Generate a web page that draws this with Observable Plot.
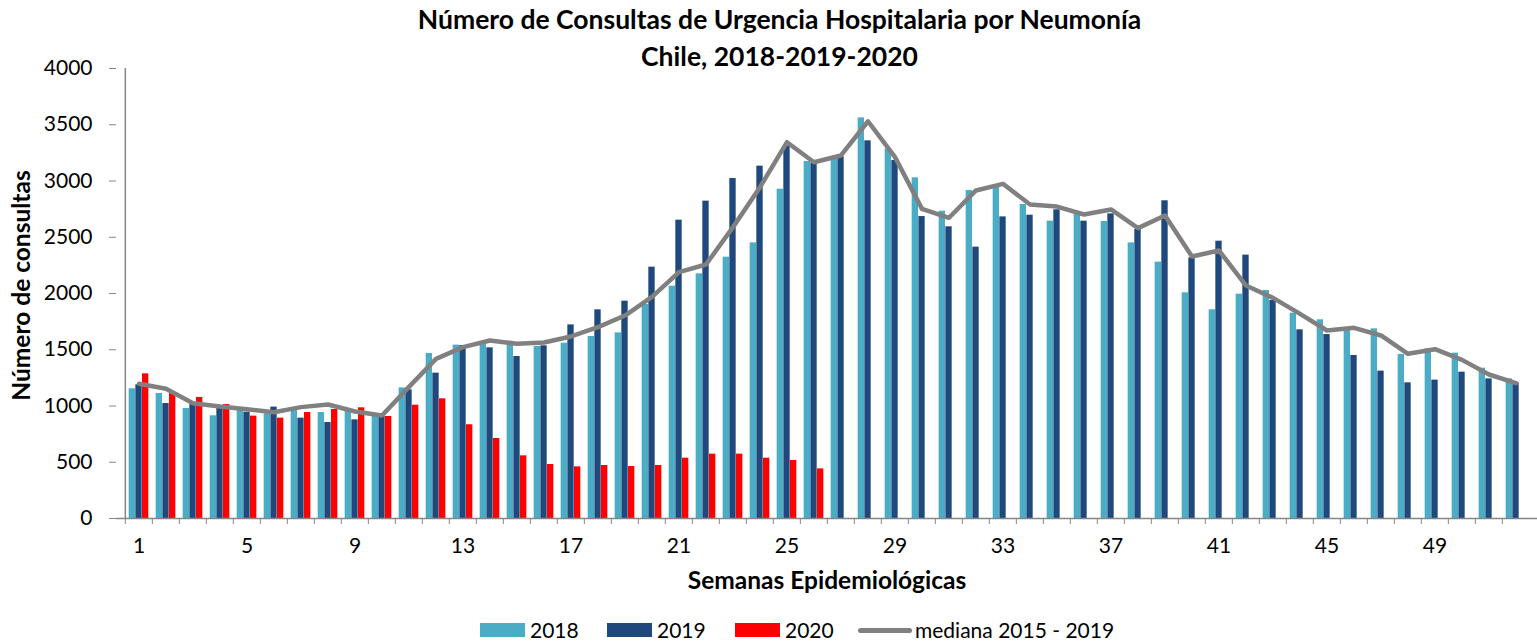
<!DOCTYPE html>
<html>
<head>
<meta charset="utf-8">
<script src="https://cdn.jsdelivr.net/npm/d3@7"></script>
<script src="https://cdn.jsdelivr.net/npm/@observablehq/plot@0.6"></script>
<style>
  html, body { margin: 0; padding: 0; background: #fff; }
  body { width: 1537px; height: 644px; position: relative; overflow: hidden; font-family: Lato, "Open Sans", sans-serif; color: #000; }
  #title { position: absolute; top: 1px; left: 11px; width: 1537px; text-align: center; font-weight: bold; font-size: 26.5px; line-height: 37px; z-index: 2; }
  #chart { position: absolute; top: 0; left: 0; }
  #legend { position: absolute; top: 619px; left: 0; width: 1537px; height: 22px; font-size: 21px; line-height: 22px; white-space: nowrap; }
  .item { position: absolute; top: 0; display: flex; align-items: center; height: 22px; }
  .sw { width: 45px; height: 14px; margin-right: 5px; }
  .ln { width: 54px; height: 5px; border-radius: 3px; background: #808080; margin-right: 3px; }
  svg text { font-family: Lato, "Open Sans", sans-serif; }
</style>
</head>
<body>
<div id="title">Número de Consultas de Urgencia Hospitalaria por Neumonía<br>Chile, 2018-2019-2020</div>
<div id="chart"></div>
<div id="legend"></div>
<script>
const weeks = d3.range(1, 53);
const xTickWeeks = [1, 5, 9, 13, 17, 21, 25, 29, 33, 37, 41, 45, 49];
const yTicks = [0, 500, 1000, 1500, 2000, 2500, 3000, 3500, 4000];

const v2018 = [1153,1111,978,913,960,955,966,942,955,907,
  1161,1467,1541,1553,1576,1529,1558,1618,1650,1902,
  2065,2175,2323,2450,2927,3173,3212,3561,3286,3028,
  2732,2916,2945,2791,2643,2708,2640,2450,2279,2006,
  1855,1994,2027,1825,1766,1671,1686,1458,1508,1470,
  1336,1241];
const v2019 = [1188,1022,1013,984,945,990,892,853,877,907,
  1144,1292,1538,1517,1440,1535,1721,1855,1932,2234,
  2652,2821,3022,3132,3310,3158,3215,3357,3182,2684,
  2593,2412,2681,2696,2744,2643,2708,2569,2824,2317,
  2465,2341,1938,1677,1635,1449,1310,1206,1230,1301,
  1241,1206];
const v2020 = [1286,1110,1076,1013,910,892,942,969,984,907,
  1007,1064,833,711,557,480,459,471,462,471,
  536,572,572,536,516,441];
const median = [1197,1153,1025,995,972,945,990,1013,951,916,
  1170,1419,1523,1582,1553,1564,1618,1701,1804,1970,
  2190,2258,2590,2945,3345,3167,3227,3531,3212,2752,
  2673,2916,2975,2791,2773,2702,2747,2581,2693,2329,
  2382,2071,1961,1819,1671,1695,1627,1464,1505,1410,
  1280,1203];

const seriesNames = ["2018", "2019", "2020", "mediana 2015 - 2019"];
const colors = ["#4BACC6", "#1F497D", "#FF0000", "#808080"];

const toRows = arr => arr.map((v, i) => ({week: weeks[i], value: v}));
const r2018 = toRows(v2018), r2019 = toRows(v2019), r2020 = toRows(v2020), rMed = toRows(median);

const W = 1537, H = 600, mL = 116, mR = 0, mT = 68, mB = H - 68 - 450;
const bw = (W - mL - mR) / weeks.length;
const barW = 6.67;
const g0 = (bw - 3 * barW) / 2;
const axisColor = "#868686";

const chart = Plot.plot({
  width: W, height: H,
  marginLeft: mL, marginRight: mR, marginTop: mT, marginBottom: mB,
  style: {fontSize: "21px", color: "#000", background: "#fff"},
  x: {type: "band", domain: weeks, padding: 0, axis: null},
  y: {domain: [0, 4000], axis: null},
  marks: [
    Plot.barY(r2018, {x: "week", y: "value", fill: colors[0], insetLeft: g0, insetRight: bw - g0 - barW}),
    Plot.barY(r2019, {x: "week", y: "value", fill: colors[1], insetLeft: g0 + barW, insetRight: bw - g0 - 2 * barW}),
    Plot.barY(r2020, {x: "week", y: "value", fill: colors[2], insetLeft: g0 + 2 * barW, insetRight: g0}),
    Plot.line(rMed, {x: "week", y: "value", stroke: colors[3], strokeWidth: 4.5, strokeLinejoin: "round", strokeLinecap: "round"}),
    Plot.axisY({ticks: yTicks, tickSize: 7, tickPadding: 17, tickFormat: d => String(d), stroke: axisColor, fill: "#000", label: null, fontSize: 21}),
    Plot.axisX({ticks: xTickWeeks, tickSize: 0, tickPadding: 20, tickFormat: d => String(d), fill: "#000", label: null, fontSize: 21}),
    Plot.axisX({ticks: weeks, tickSize: 6, tickFormat: () => "", dx: -bw / 2, stroke: axisColor, label: null}),
    Plot.ruleY([0], {stroke: axisColor, strokeWidth: 1.5}),
    Plot.ruleX([weeks[0]], {dx: -bw / 2, stroke: axisColor, strokeWidth: 1.5}),
    Plot.text(["Semanas Epidemiológicas"], {frameAnchor: "bottom", dy: 70, fontWeight: "bold", fontSize: 24.5, fill: "#000", textAnchor: "middle"}),
    Plot.text(["Número de consultas"], {frameAnchor: "left", dx: -94, dy: -8, rotate: -90, fontWeight: "bold", fontSize: 24.5, fill: "#000", textAnchor: "middle"})
  ]
});
document.getElementById("chart").appendChild(chart);

const legend = document.getElementById("legend");
const legendLeft = [480, 607, 735, 858];
seriesNames.forEach((name, i) => {
  const item = document.createElement("div");
  item.className = "item";
  item.style.left = legendLeft[i] + "px";
  const sw = document.createElement("div");
  if (i < 3) { sw.className = "sw"; sw.style.background = colors[i]; }
  else { sw.className = "ln"; }
  const t = document.createElement("span");
  t.textContent = name;
  item.appendChild(sw); item.appendChild(t);
  legend.appendChild(item);
});
</script>
</body>
</html>
